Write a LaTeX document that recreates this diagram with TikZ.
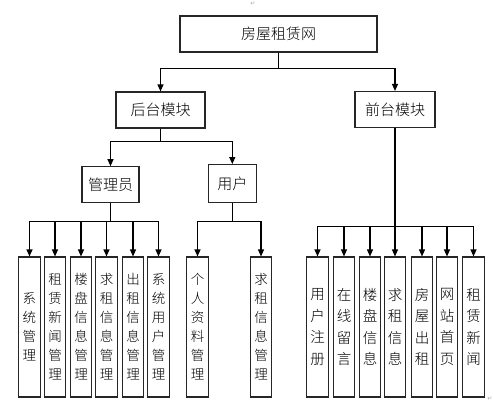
\documentclass[tikz,border=0pt]{standalone}
\usepackage{fontspec}
\newfontfamily\cjk{Noto Sans CJK SC}[UprightFont={* Light}]
\newfontfamily\symf{DejaVu Sans}
\usetikzlibrary{arrows.meta}
\tikzset{
  box/.style={draw=black!85, line width=1.1pt, inner sep=0pt, font=\cjk\fontsize{15}{18}\selectfont},
  leaf/.style={draw=black!85, line width=1.1pt, inner sep=0pt, minimum width=21.5pt, minimum height=140pt, align=center, font=\cjk\fontsize{13.5}{19}\selectfont},
  fleaf/.style={leaf, font=\cjk\fontsize{14.5}{21.5}\selectfont},
  conn/.style={line width=1.1pt, black},
  arr/.style={conn, -{Triangle[length=7pt,width=6pt]}},
  pmark/.style={text=black!35, font=\symf\fontsize{6}{6}\selectfont, inner sep=0pt}
}
\begin{document}
\begin{tikzpicture}[x=1pt,y=-1pt]
\useasboundingbox (0,0) rectangle (493,405);
% top
\node[box, minimum width=197pt, minimum height=36pt] (top) at (278.5,34) {房屋租赁网};
\node[box, minimum width=89pt, minimum height=36pt] (hou) at (160.5,110) {后台模块};
\node[box, minimum width=80pt, minimum height=36pt] (qian) at (395,109.5) {前台模块};
\node[box, minimum width=57pt, minimum height=36pt] (gly) at (110.5,184.7) {管理员};
\node[box, minimum width=48pt, minimum height=38pt] (yh) at (232.3,183.6) {用户};
% leaves admin
\node[leaf] (a1) at (29.5,327) {系\\统\\管\\理};
\node[leaf] (a2) at (55,327) {租\\赁\\新\\闻\\管\\理};
\node[leaf] (a3) at (81,327) {楼\\盘\\信\\息\\管\\理};
\node[leaf] (a4) at (106.5,327) {求\\租\\信\\息\\管\\理};
\node[leaf] (a5) at (133,327) {出\\租\\信\\息\\管\\理};
\node[leaf] (a6) at (158.5,327) {系\\统\\用\\户\\管\\理};
% leaves user
\node[leaf] (u1) at (197.5,327) {个\\人\\资\\料\\管\\理};
\node[leaf] (u2) at (261,327) {求\\租\\信\\息\\管\\理};
% leaves front
\node[fleaf] (f1) at (317.5,327) {用\\户\\注\\册};
\node[fleaf] (f2) at (344,327) {在\\线\\留\\言};
\node[fleaf] (f3) at (370,327) {楼\\盘\\信\\息};
\node[fleaf] (f4) at (395,327) {求\\租\\信\\息};
\node[fleaf] (f5) at (422,327) {房\\屋\\出\\租};
\node[fleaf] (f6) at (447,327) {网\\站\\首\\页};
\node[fleaf] (f7) at (473.5,327) {租\\赁\\新\\闻};
% connectors
\draw[conn] (top.south) -- ++(0,16) coordinate (b1);
\draw[arr] (b1) -| (hou.north);
\draw[arr] (b1) -| (qian.north);
\draw[conn] (hou.south) -- ++(0,13) coordinate (b2);
\draw[arr] (b2) -| (gly.north);
\draw[arr] (b2) -| (yh.north);
\draw[conn] (gly.south) -- ++(0,18) coordinate (b3);
\foreach \n in {a1,a2,a3,a4,a5,a6} \draw[arr] (b3) -| (\n.north);
\draw[conn] (yh.south) -- ++(0,18) coordinate (b4);
\foreach \n in {u1,u2} \draw[arr] (b4) -| (\n.north);
\draw[conn] (qian.south) -- ++(0,98) coordinate (b5);
\foreach \n in {f1,f2,f3,f4,f5,f6,f7} \draw[arr] (b5) -| (\n.north);
% paragraph marks
\node[pmark] (m1) at (253,4) {↵};
\node[pmark] (m2) at (490,399) {↵};
\end{tikzpicture}
\end{document}
